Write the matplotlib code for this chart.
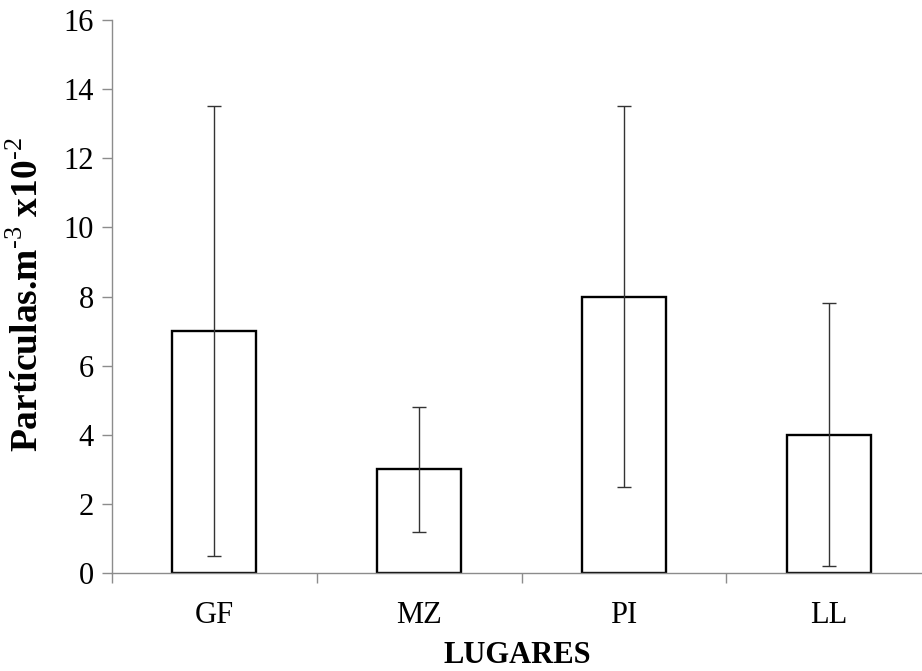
import numpy as np
import matplotlib
matplotlib.use("Agg")
import matplotlib.pyplot as plt

# ---------- Datos ----------
lugares = ["GF", "MZ", "PI", "LL"]
medias = [7.0, 3.0, 8.0, 4.0]
desv = [6.5, 1.8, 5.5, 3.8]

plt.rcParams['font.family'] = ['Liberation Serif', 'DejaVu Serif']
plt.rcParams['mathtext.fontset'] = 'custom'
plt.rcParams['mathtext.rm'] = 'Liberation Serif'
plt.rcParams['mathtext.bf'] = 'Liberation Serif:bold'

fig = plt.figure(figsize=(9.22, 6.71), dpi=100)
# el eje x continua mas alla del borde derecho (recortado en la original)
ax = fig.add_axes([112/922, 1 - 573/671, 819/922, 553/671])

x = np.arange(len(lugares))
ax.bar(x, medias, width=0.41, color='white', edgecolor='black', linewidth=1.7, zorder=2)
ax.errorbar(x, medias, yerr=desv, fmt='none', ecolor='#333333', elinewidth=1.0,
            capsize=4.8, capthick=1.0, zorder=3)

ax.set_xlim(-0.5, len(lugares) - 0.5)
ax.set_ylim(0, 16)
ax.set_yticks(np.arange(0, 17, 2))
ax.set_xticks(x)
ax.set_xticklabels(lugares)
ax.set_xticks(np.arange(-0.5, len(lugares), 1), minor=True)

for s in ['top', 'right']:
    ax.spines[s].set_visible(False)
for s in ['left', 'bottom']:
    ax.spines[s].set_color('#8c8c8c')
    ax.spines[s].set_linewidth(1.0)

ax.tick_params(axis='y', direction='out', length=7, width=1.0, color='#8c8c8c',
               labelsize=22, pad=6)
ax.tick_params(axis='x', which='major', length=0, labelsize=22, pad=20)
ax.tick_params(axis='x', which='minor', direction='out', length=7, width=1.0,
               color='#8c8c8c')

# Etiquetas de ejes
fig.text(28/922, 1 - 295/671,
         'Partículas.m$^{\\text{-3}}$ x10$^{\\text{-2}}$',
         rotation=90, ha='center', va='center', fontsize=27, fontweight='bold')
fig.text(517/922, 1 - 670/671, 'LUGARES', ha='center', va='bottom',
         fontsize=22, fontweight='bold')

fig.savefig('out.png', dpi=100)
